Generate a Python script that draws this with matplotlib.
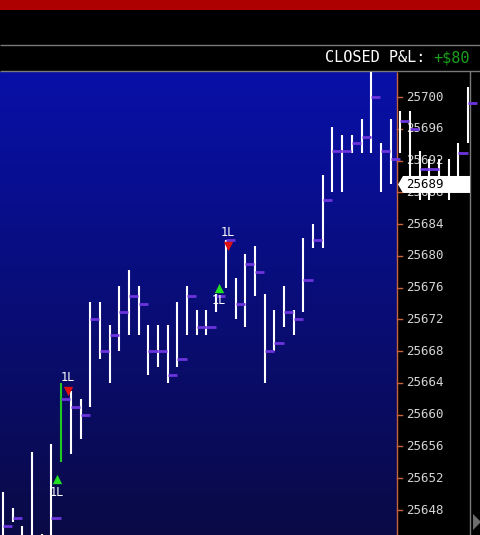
import numpy as np
import matplotlib
matplotlib.use('Agg')
import matplotlib.pyplot as plt
from matplotlib.patches import Polygon, Rectangle
from matplotlib.transforms import blended_transform_factory

# one bar per index, prices
highs = [25650.25, 25648.25, 25646, 25655.25, 25645, 25656.25, 25664, 25663, 25662,
         25674.25, 25674.25, 25671.25, 25676.25, 25678.25, 25676.25, 25671.25, 25671.25,
         25671.25, 25674.25, 25676.25, 25673.25, 25673.25, 25675.25, 25682, 25677.25,
         25680.25, 25681.25, 25675.25, 25673.25, 25676.25, 25673.25, 25682.25, 25684,
         25690.25, 25696.25, 25695.25, 25695.25, 25697.25, 25704, 25694.25, 25697.25,
         25698.25, 25698.25, 25693.25, 25692.25, 25692.25, 25692.25, 25694.25, 25701.25]
lows = [25643, 25646.5, 25643, 25643, 25643, 25643, 25654, 25655, 25657,
        25661, 25667, 25664, 25668, 25670, 25670, 25665, 25666,
        25664, 25666, 25670, 25670, 25670, 25673, 25676, 25672,
        25671, 25675, 25664, 25668, 25671, 25670, 25673, 25681,
        25681, 25688, 25688, 25693, 25693, 25693, 25688, 25689,
        25693, 25688, 25687, 25687, 25688, 25687, 25690, 25694.25]
closes = [25646, 25647, 25644, 25644, 25644, 25647, 25662, 25661, 25660,
          25672, 25668, 25670, 25673, 25675, 25674, 25668, 25668,
          25665, 25667, 25675, 25671, 25671, 25675, 25682, 25674,
          25679, 25678, 25668, 25669, 25673, 25672, 25677, 25682,
          25687, 25693.25, 25693.25, 25694.25, 25695, 25700, 25693.25, 25692.25,
          25697, 25696, 25691, 25691, 25690, 25690, 25693, 25699.25]
trade_bar = 6

# trade markers (bar position, price)
buy_x = [5.6, 22.25]
buy_price = [25651.9, 25676.0]
sell_x = [6.7, 23.2]
sell_price = [25663.0, 25681.3]
trade_label = '1L'

price_ticks = list(range(25648, 25701, 4))
last_price = 25689
closed_pnl = '+$80'

W, H = 481, 535
fig = plt.figure(figsize=(W / 100, H / 100), dpi=100, facecolor='black')

# pixel canvas for the frame / background
bg = fig.add_axes([0, 0, 1, 1])
bg.set_xlim(0, W)
bg.set_ylim(H, 0)
bg.axis('off')
bg.set_facecolor('black')

bg.add_patch(Rectangle((0, 0), W, 10, color='#ad0000', lw=0))
bg.hlines([45, 71], 0, W, color='#7a7a7a', lw=1)
grad = np.linspace(0, 1, 256)[:, None]
top = np.array([8, 16, 168]) / 255
bot = np.array([10, 10, 70]) / 255
img = top + (bot - top) * grad[..., None]
img = np.repeat(img, 2, axis=1)
bg.imshow(img, extent=[0, 397, H, 72], aspect='auto', zorder=0)
bg.vlines(397.5, 72, H, color='#c8643c', lw=1)
bg.vlines(470.5, 71, H, color='#7a7a7a', lw=1)
bg.add_patch(Polygon([[473, 514], [473, 530], [481, 522]], color='#6e6e6e', lw=0))

bg.text(325, 58, 'CLOSED P&L:', color='white', fontsize=11, family='DejaVu Sans Mono',
        va='center', ha='left')
bg.text(433, 58, closed_pnl, color='#1aa01a', fontsize=11, family='DejaVu Sans Mono',
        va='center', ha='left')

# chart area
ax = fig.add_axes([0, 0, 1, (H - 72) / H])
ax.patch.set_alpha(0)
ax.axis('off')
px = 9.69
ax.set_xlim(-3 / px, (W - 3) / px)
ax.set_ylim(25648 - 25 / 7.94, 25648 + 438 / 7.94)

x = np.arange(len(highs))
bar_colors = ['#22c822' if i == trade_bar else 'white' for i in x]
ax.vlines(x, lows, highs, colors=bar_colors, lw=1.5, zorder=3)
ax.hlines(closes, x, x + 0.95, colors='#6c34dc', lw=2.0, zorder=4)

# price scale
tr = blended_transform_factory(ax.transAxes, ax.transData)
for p in price_ticks:
    ax.text(406 / W, p, str(p), transform=tr, color='#d4d4d4', fontsize=9,
            family='DejaVu Sans Mono', va='center', ha='left', zorder=1)
    ax.plot([397 / W, 402 / W], [p, p], transform=tr, color='#c8643c', lw=1, zorder=1)

# last price box
hh = 1.07
box = Polygon([[398 / W, last_price], [403 / W, last_price + hh], [470 / W, last_price + hh],
               [470 / W, last_price - hh], [403 / W, last_price - hh]],
              closed=True, transform=tr, color='white', lw=0, zorder=6, clip_on=False)
ax.add_patch(box)
ax.text(406 / W, last_price, str(last_price), transform=tr, color='black', fontsize=9,
        family='DejaVu Sans Mono', va='center', ha='left', zorder=7)

# trades
ax.scatter(buy_x, buy_price, marker='^', s=45, color='#22e022', lw=0, zorder=5)
ax.scatter(sell_x, sell_price, marker='v', s=45, color='#e01010', lw=0, zorder=5)
for bx, bp in zip(buy_x, buy_price):
    ax.annotate(trade_label, (bx, bp), xytext=(0, -9.5), textcoords='offset points',
                color='white', fontsize=8.5, family='DejaVu Sans Mono',
                ha='center', va='center', zorder=5)
for sx, sp in zip(sell_x, sell_price):
    ax.annotate(trade_label, (sx, sp), xytext=(0, 9.5), textcoords='offset points',
                color='white', fontsize=8.5, family='DejaVu Sans Mono',
                ha='center', va='center', zorder=5)

fig.savefig('out.png', dpi=100, facecolor='black')
